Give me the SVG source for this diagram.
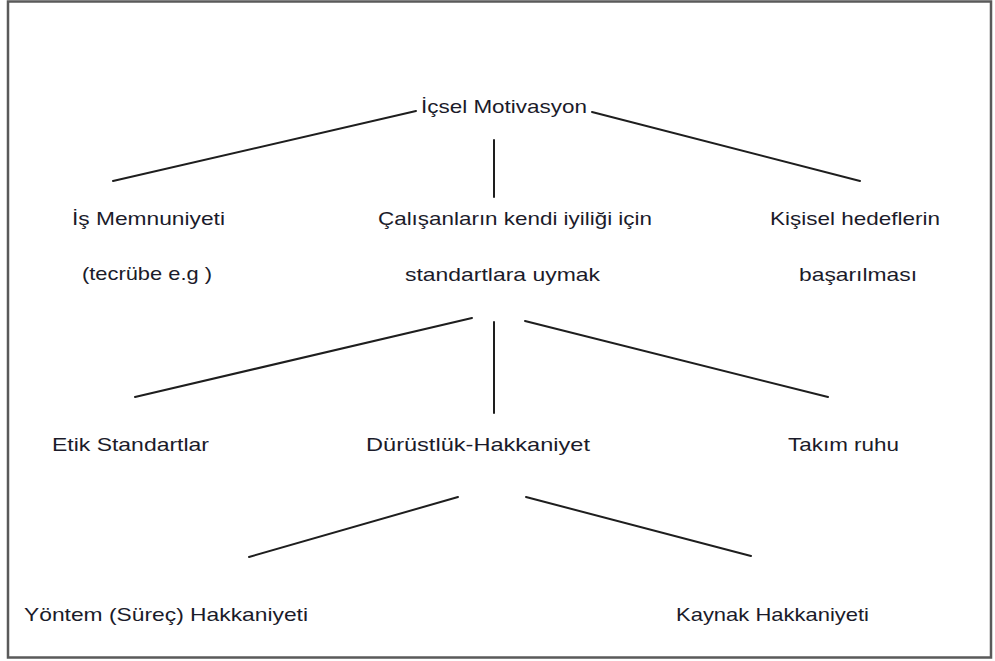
<svg xmlns="http://www.w3.org/2000/svg" width="995" height="661" viewBox="0 0 995 661">
  <style>
    .frame { fill: #ffffff; stroke: #5a5a5a; stroke-width: 2.5; }
    .edge { stroke: #1e1e1e; stroke-width: 2; fill: none; stroke-linecap: round; }
    .lbl { font-family: "Liberation Sans", "Open Sans", sans-serif; font-size: 19px; fill: #1b1b2a; }
  </style>
  <rect class="frame" x="8" y="1.5" width="983" height="656"/>

  <g id="connectors">
    <line class="edge" x1="113" y1="181" x2="416" y2="111"/>
    <line class="edge" x1="592" y1="112" x2="860" y2="181"/>
    <line class="edge" x1="494" y1="140" x2="494" y2="197"/>
    <line class="edge" x1="472" y1="318" x2="135" y2="397"/>
    <line class="edge" x1="494" y1="322" x2="494" y2="413"/>
    <line class="edge" x1="525" y1="321" x2="828" y2="397"/>
    <line class="edge" x1="458" y1="497" x2="249" y2="557"/>
    <line class="edge" x1="526" y1="497" x2="751" y2="556"/>
  </g>

  <g id="node-root">
    <text class="lbl" x="421" y="113" textLength="166" lengthAdjust="spacingAndGlyphs">İçsel Motivasyon</text>
  </g>
  <g id="node-is-memnuniyeti">
    <text class="lbl" x="72" y="225" textLength="153" lengthAdjust="spacingAndGlyphs">İş Memnuniyeti</text>
    <text class="lbl" x="82" y="280" textLength="130" lengthAdjust="spacingAndGlyphs">(tecrübe e.g )</text>
  </g>
  <g id="node-standartlara-uymak">
    <text class="lbl" x="378" y="225" textLength="274" lengthAdjust="spacingAndGlyphs">Çalışanların kendi iyiliği için</text>
    <text class="lbl" x="405" y="281" textLength="195" lengthAdjust="spacingAndGlyphs">standartlara uymak</text>
  </g>
  <g id="node-kisisel-hedefler">
    <text class="lbl" x="770" y="225" textLength="170" lengthAdjust="spacingAndGlyphs">Kişisel hedeflerin</text>
    <text class="lbl" x="799" y="281" textLength="118" lengthAdjust="spacingAndGlyphs">başarılması</text>
  </g>
  <g id="node-etik">
    <text class="lbl" x="52" y="451" textLength="157" lengthAdjust="spacingAndGlyphs">Etik Standartlar</text>
  </g>
  <g id="node-durustluk">
    <text class="lbl" x="366" y="451" textLength="224" lengthAdjust="spacingAndGlyphs">Dürüstlük-Hakkaniyet</text>
  </g>
  <g id="node-takim">
    <text class="lbl" x="788" y="451" textLength="111" lengthAdjust="spacingAndGlyphs">Takım ruhu</text>
  </g>
  <g id="node-yontem">
    <text class="lbl" x="24" y="621" textLength="284" lengthAdjust="spacingAndGlyphs">Yöntem (Süreç) Hakkaniyeti</text>
  </g>
  <g id="node-kaynak">
    <text class="lbl" x="676" y="621" textLength="193" lengthAdjust="spacingAndGlyphs">Kaynak Hakkaniyeti</text>
  </g>
</svg>
